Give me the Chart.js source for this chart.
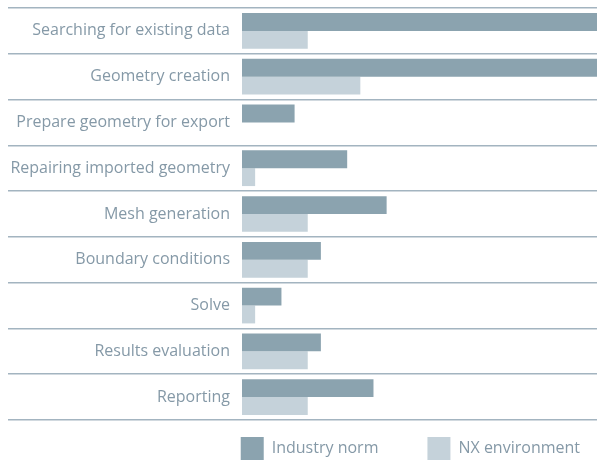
<!DOCTYPE html>
<html>
<head>
<meta charset="utf-8">
<script src="https://cdn.jsdelivr.net/npm/chart.js@4"></script>
<style>
  html, body { margin: 0; padding: 0; background: #ffffff; }
  #wrap { width: 598px; height: 461px; }
</style>
</head>
<body>
<div id="wrap"><canvas id="chart"></canvas></div>
<script>
const categories = [
    'Searching for existing data',
    'Geometry creation',
    'Prepare geometry for export',
    'Repairing imported geometry',
    'Mesh generation',
    'Boundary conditions',
    'Solve',
    'Results evaluation',
    'Reporting'
]
const industry_norm = [27, 27, 4, 8, 11, 6, 3, 6, 10]
const nx_environment = [5, 9, 0, 1, 5, 5, 1, 5, 5]

const text_color = '#8599a7'
const line_color = '#a3b4c0'

// legend entries get a little extra room after them so the second one sits further right
function legend_labels(chart) {
    let items = Chart.defaults.plugins.legend.labels.generateLabels(chart)
    items.forEach((item, i) => {
        item.lineWidth = 0
        if (i < items.length - 1) item.text = item.text + '\u2003\u2003'
    })
    return items
}

new Chart(document.getElementById('chart'), {
    type: 'bar',
    data: {
        labels: categories,
        datasets: [{
            label: 'Industry norm',
            data: industry_norm,
            backgroundColor: '#8ba3af',
            categoryPercentage: 0.78,
            barPercentage: 1
        }, {
            label: 'NX environment',
            data: nx_environment,
            backgroundColor: '#c5d2da',
            categoryPercentage: 0.78,
            barPercentage: 1
        }]
    },
    options: {
        indexAxis: 'y',
        responsive: true,
        maintainAspectRatio: false,
        animation: false,
        layout: {
            padding: { top: 8, left: 8, right: 1, bottom: 0 }
        },
        scales: {
            x: {
                display: false,
                min: 0,
                max: 27
            },
            y: {
                grid: {
                    offset: true,
                    color: line_color,
                    lineWidth: 1.5,
                    tickLength: 234,
                    tickColor: line_color,
                    tickWidth: 1.5
                },
                border: {
                    display: false
                },
                ticks: {
                    padding: -222,
                    color: text_color,
                    font: { family: 'Open Sans', size: 16 }
                },
                afterFit: scale => { scale.width = 234 }
            }
        },
        plugins: {
            tooltip: { enabled: false },
            legend: {
                display: true,
                position: 'bottom',
                align: 'end',
                maxHeight: 41,
                labels: {
                    boxWidth: 23,
                    boxHeight: 23,
                    padding: 17,
                    color: text_color,
                    font: { family: 'Open Sans', size: 16 },
                    generateLabels: legend_labels
                }
            }
        }
    }
})
</script>
</body>
</html>
